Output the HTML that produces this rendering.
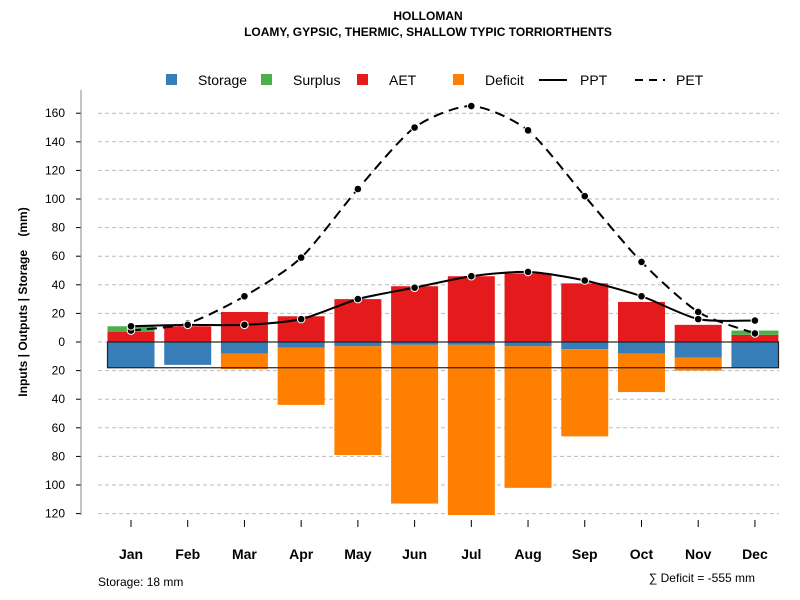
<!DOCTYPE html>
<html><head><meta charset="utf-8"><style>
body{margin:0;background:#fff;}
svg{display:block;font-family:"Liberation Sans",sans-serif;}
</style></head><body>
<svg id="chart" width="800" height="600">
<text x="428" y="20" text-anchor="middle" font-size="12" font-weight="bold">HOLLOMAN</text>
<text x="428" y="36" text-anchor="middle" font-size="12" font-weight="bold">LOAMY, GYPSIC, THERMIC, SHALLOW TYPIC TORRIORTHENTS</text>
<g font-size="14">
<rect x="166" y="74" width="11" height="11" fill="#377eb8"/>
<text x="198" y="85">Storage</text>
<rect x="261" y="74" width="11" height="11" fill="#4daf4a"/>
<text x="293" y="85">Surplus</text>
<rect x="357" y="74" width="11" height="11" fill="#e41a1c"/>
<text x="389" y="85">AET</text>
<rect x="453" y="74" width="11" height="11" fill="#ff7f00"/>
<text x="485" y="85">Deficit</text>
<line x1="539" y1="80" x2="567" y2="80" stroke="#000" stroke-width="2"/>
<text x="580" y="85">PPT</text>
<line x1="635" y1="80" x2="665" y2="80" stroke="#000" stroke-width="2" stroke-dasharray="8,6"/>
<text x="676" y="85">PET</text>
</g>
<text transform="translate(27,302) rotate(-90)" text-anchor="middle" font-size="12" font-weight="bold" style="white-space:pre">Inputs | Outputs | Storage    (mm)</text>
<text x="98" y="586" font-size="12">Storage: 18 mm</text>
<text x="755" y="582" text-anchor="end" font-size="12">∑ Deficit = -555 mm</text>
</svg>
<script>
const months=["Jan","Feb","Mar","Apr","May","Jun","Jul","Aug","Sep","Oct","Nov","Dec"];
const storage=[18,16,8,4,3,2,2,3,5,8,11,18];
const deficit=[0,0,11,40,76,111,119,99,61,27,9,0];
const aet=[7,11,21,18,30,39,46,48,41,28,12,5];
const surplus=[4,0,0,0,0,0,0,0,0,0,0,3];
const ppt=[11,12,12,16,30,38,46,49,43,32,16,15];
const pet=[8,13,32,59,107,150,165,148,102,56,21,6];
const yTicks=[160,140,120,100,80,60,40,20,0,20,40,60,80,100,120];
const yTickSigns=[1,1,1,1,1,1,1,1,1,-1,-1,-1,-1,-1,-1];
const storageCap=18;

const svg=document.getElementById('chart');
const NS='http://www.w3.org/2000/svg';
const y=v=>342-v*1.43;
const x=i=>131+i*56.72;
const bw=47;
function mk(t,a){const e=document.createElementNS(NS,t);for(const k in a)e.setAttribute(k,a[k]);svg.appendChild(e);return e;}

yTicks.forEach((t,i)=>{
  const v=t*yTickSigns[i];
  const g=mk('line',{x1:98,x2:779,y1:y(v),y2:y(v),stroke:'#bbb','stroke-dasharray':'4,3'});
  
  
  const tk=mk('line',{x1:76,x2:81,y1:y(v),y2:y(v),stroke:'#000'});
  
  
  const tl=mk('text',{x:65,y:y(v)+4,'text-anchor':'end','font-size':12});
  tl.textContent=t;
  
  
});
const ax=mk('line',{x1:81,x2:81,y1:90,y2:515,stroke:'#888','stroke-width':1});



months.forEach((m,i)=>{
  const cx=x(i),l=cx-bw/2;
  const s=mk('rect',{x:l,y:y(0),width:bw,height:y(-storage[i])-y(0),fill:'#377eb8'});
  
  
  if(deficit[i]>0){
    const d=mk('rect',{x:l,y:y(-storage[i]),width:bw,height:y(-storage[i]-deficit[i])-y(-storage[i]),fill:'#ff7f00'});
    
    
  }
  const a=mk('rect',{x:l,y:y(aet[i]),width:bw,height:y(0)-y(aet[i]),fill:'#e41a1c'});
  
  
  if(surplus[i]>0){
    const su=mk('rect',{x:l,y:y(aet[i]+surplus[i]),width:bw,height:y(aet[i])-y(aet[i]+surplus[i]),fill:'#4daf4a'});
    
    
  }
  const tk=mk('line',{x1:cx,x2:cx,y1:520,y2:527,stroke:'#000'});
  
  
  const lb=mk('text',{x:cx,y:559,'text-anchor':'middle','font-size':14,'font-weight':'bold'});
  lb.textContent=m;
  
  
});
const zl=mk('line',{x1:107,x2:779,y1:y(0),y2:y(0),stroke:'#444','stroke-width':1});


const box=mk('rect',{x:107.5,y:y(0),width:671,height:y(-storageCap)-y(0),fill:'none',stroke:'#222','stroke-width':1.2});



function smooth(vals){
  const p=vals.map((v,i)=>[x(i),y(v)]);
  let d='M'+p[0][0]+','+p[0][1];
  for(let i=0;i<p.length-1;i++){
    const p0=p[Math.max(0,i-1)],p1=p[i],p2=p[i+1],p3=p[Math.min(p.length-1,i+2)];
    const c1=[p1[0]+(p2[0]-p0[0])/8,p1[1]+(p2[1]-p0[1])/8];
    const c2=[p2[0]-(p3[0]-p1[0])/8,p2[1]-(p3[1]-p1[1])/8];
    d+=` C${c1[0]},${c1[1]} ${c2[0]},${c2[1]} ${p2[0]},${p2[1]}`;
  }
  return d;
}
const pl=mk('path',{d:smooth(pet),fill:'none',stroke:'#000','stroke-width':2,'stroke-dasharray':'10,6'});


const ppl=mk('path',{d:smooth(ppt),fill:'none',stroke:'#000','stroke-width':2});


[pet,ppt].forEach((arr,k)=>arr.forEach((v,i)=>{
  const c=mk('circle',{cx:x(i),cy:y(v),r:3.8,fill:'#000',stroke:'#fff','stroke-width':1});
  
  
}));
</script>
</body></html>
